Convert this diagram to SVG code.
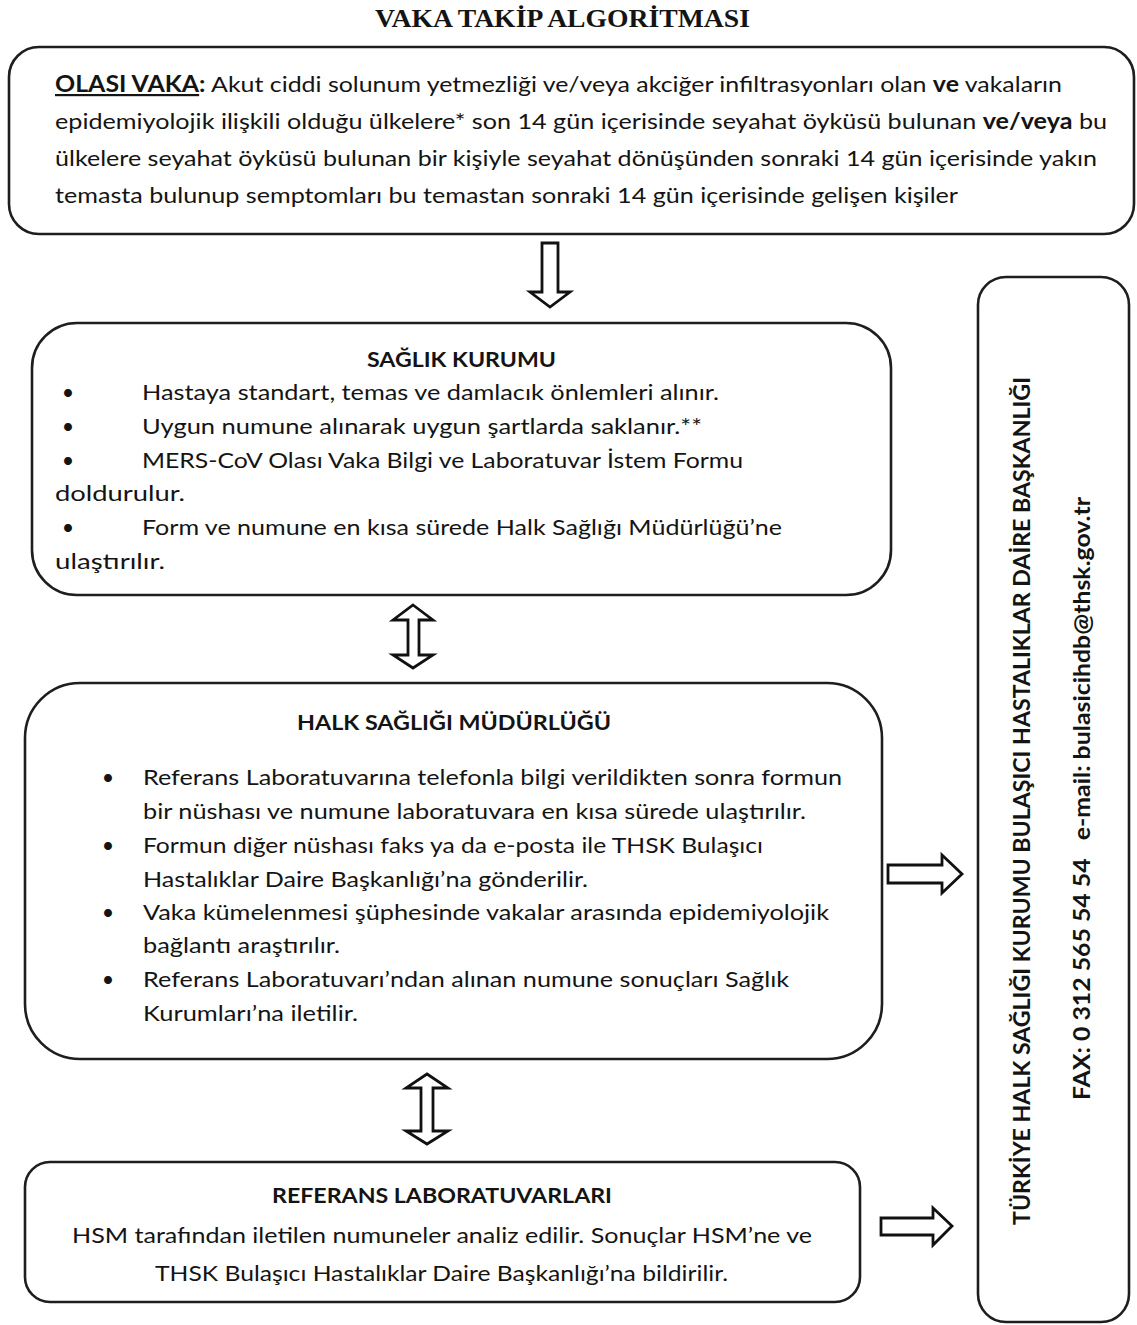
<svg xmlns="http://www.w3.org/2000/svg" width="1137" height="1325" viewBox="0 0 1137 1325">
<style>
.box{fill:#fff;stroke:#1e1e1e;stroke-width:2.6}
.arr{fill:#fff;stroke:#111;stroke-width:2.8;stroke-linejoin:miter}
text{font-family:Lato,"Open Sans","Liberation Sans",sans-serif;fill:#141414}
.t{font-size:21.5px}
.tt{font-size:22px}
.h{font-size:21px;font-weight:bold}
.b{font-weight:bold}
.title{font-family:"Liberation Serif",serif;font-size:26px;font-weight:bold}
.v{font-size:22px;font-weight:bold}
</style>
<rect width="1137" height="1325" fill="#fff"/>
<text class="title" x="375" y="27" textLength="375" lengthAdjust="spacingAndGlyphs">VAKA TAKİP ALGORİTMASI</text>

<g id="olasi-vaka">
<rect class="box" x="9" y="47" width="1125" height="187" rx="30"/>
<text class="tt" x="55" y="92" textLength="1007" lengthAdjust="spacingAndGlyphs"><tspan class="b" style="text-decoration:underline">OLASI VAKA</tspan><tspan class="b">:</tspan> Akut ciddi solunum yetmezliği ve/veya akciğer infiltrasyonları olan <tspan class="b">ve</tspan> vakaların</text>
<text class="tt" x="55" y="129" textLength="1052" lengthAdjust="spacingAndGlyphs">epidemiyolojik ilişkili olduğu ülkelere* son 14 gün içerisinde seyahat öyküsü bulunan <tspan class="b">ve/veya</tspan> bu</text>
<text class="tt" x="55" y="166" textLength="1042" lengthAdjust="spacingAndGlyphs">ülkelere seyahat öyküsü bulunan bir kişiyle seyahat dönüşünden sonraki 14 gün içerisinde yakın</text>
<text class="tt" x="55" y="203" textLength="903" lengthAdjust="spacingAndGlyphs">temasta bulunup semptomları bu temastan sonraki 14 gün içerisinde gelişen kişiler</text>
</g>

<g id="saglik-kurumu">
<rect class="box" x="32" y="323" width="859" height="272" rx="45"/>
<text class="h" x="367" y="367" textLength="189" lengthAdjust="spacingAndGlyphs">SAĞLIK KURUMU</text>
<text class="t" x="68" y="400" text-anchor="middle">•</text>
<text class="t" x="142" y="400" textLength="577" lengthAdjust="spacingAndGlyphs">Hastaya standart, temas ve damlacık önlemleri alınır.</text>
<text class="t" x="68" y="434" text-anchor="middle">•</text>
<text class="t" x="142" y="434" textLength="560" lengthAdjust="spacingAndGlyphs">Uygun numune alınarak uygun şartlarda saklanır.**</text>
<text class="t" x="68" y="468" text-anchor="middle">•</text>
<text class="t" x="142" y="468" textLength="601" lengthAdjust="spacingAndGlyphs">MERS-CoV Olası Vaka Bilgi ve Laboratuvar İstem Formu</text>
<text class="t" x="55" y="501" textLength="130" lengthAdjust="spacingAndGlyphs">doldurulur.</text>
<text class="t" x="68" y="535" text-anchor="middle">•</text>
<text class="t" x="142" y="535" textLength="640" lengthAdjust="spacingAndGlyphs">Form ve numune en kısa sürede Halk Sağlığı Müdürlüğü’ne</text>
<text class="t" x="55" y="569" textLength="110" lengthAdjust="spacingAndGlyphs">ulaştırılır.</text>
</g>

<g id="halk-sagligi-mudurlugu">
<rect class="box" x="25" y="683" width="857" height="376" rx="55"/>
<text class="h" x="297" y="730" textLength="314" lengthAdjust="spacingAndGlyphs">HALK SAĞLIĞI MÜDÜRLÜĞÜ</text>
<text class="t" x="108" y="785" text-anchor="middle">•</text>
<text class="t" x="143" y="785" textLength="699" lengthAdjust="spacingAndGlyphs">Referans Laboratuvarına telefonla bilgi verildikten sonra formun</text>
<text class="t" x="143" y="819" textLength="663" lengthAdjust="spacingAndGlyphs">bir nüshası ve numune laboratuvara en kısa sürede ulaştırılır.</text>
<text class="t" x="108" y="853" text-anchor="middle">•</text>
<text class="t" x="143" y="853" textLength="620" lengthAdjust="spacingAndGlyphs">Formun diğer nüshası faks ya da e-posta ile THSK Bulaşıcı</text>
<text class="t" x="143" y="887" textLength="445" lengthAdjust="spacingAndGlyphs">Hastalıklar Daire Başkanlığı’na gönderilir.</text>
<text class="t" x="108" y="920" text-anchor="middle">•</text>
<text class="t" x="143" y="920" textLength="686" lengthAdjust="spacingAndGlyphs">Vaka kümelenmesi şüphesinde vakalar arasında epidemiyolojik</text>
<text class="t" x="143" y="953" textLength="197" lengthAdjust="spacingAndGlyphs">bağlantı araştırılır.</text>
<text class="t" x="108" y="987" text-anchor="middle">•</text>
<text class="t" x="143" y="987" textLength="646" lengthAdjust="spacingAndGlyphs">Referans Laboratuvarı’ndan alınan numune sonuçları Sağlık</text>
<text class="t" x="143" y="1021" textLength="215" lengthAdjust="spacingAndGlyphs">Kurumları’na iletilir.</text>
</g>

<g id="referans-laboratuvarlari">
<rect class="box" x="25" y="1162" width="835" height="140" rx="25"/>
<text class="h" x="272" y="1203" textLength="340" lengthAdjust="spacingAndGlyphs">REFERANS LABORATUVARLARI</text>
<text class="t" x="72" y="1243" textLength="740" lengthAdjust="spacingAndGlyphs">HSM tarafından iletilen numuneler analiz edilir. Sonuçlar HSM’ne ve</text>
<text class="t" x="155" y="1281" textLength="573" lengthAdjust="spacingAndGlyphs">THSK Bulaşıcı Hastalıklar Daire Başkanlığı’na bildirilir.</text>
</g>

<g id="thsk">
<rect class="box" x="978" y="277" width="151" height="1045" rx="28"/>
<text class="v" transform="translate(1030,1225) rotate(-90)" x="0" y="0" textLength="848" lengthAdjust="spacingAndGlyphs">TÜRKİYE HALK SAĞLIĞI KURUMU BULAŞICI HASTALIKLAR DAİRE BAŞKANLIĞI</text>
<text class="v" transform="translate(1090,1100) rotate(-90)" x="0" y="0" textLength="603" lengthAdjust="spacingAndGlyphs" style="white-space:pre">FAX: 0 312 565 54 54   e-mail: bulasicihdb@thsk.gov.tr</text>
</g>

<g id="connectors">
<polygon class="arr" points="542,243 558,243 558,292 570,292 550,307 530,292 542,292"/>
<polygon class="arr" points="413,605 433,620 419,620 419,655 433,655 413,668 393,655 408,655 408,620 393,620"/>
<polygon class="arr" points="427,1074 448,1088 433,1088 433,1131 448,1131 427,1144 406,1131 421,1131 421,1088 406,1088"/>
<polygon class="arr" points="888,865 942,865 942,855 962,874 942,893 942,883 888,883"/>
<polygon class="arr" points="881,1218 933,1218 933,1208 952,1226 933,1245 933,1235 881,1235"/>
</g>
</svg>
